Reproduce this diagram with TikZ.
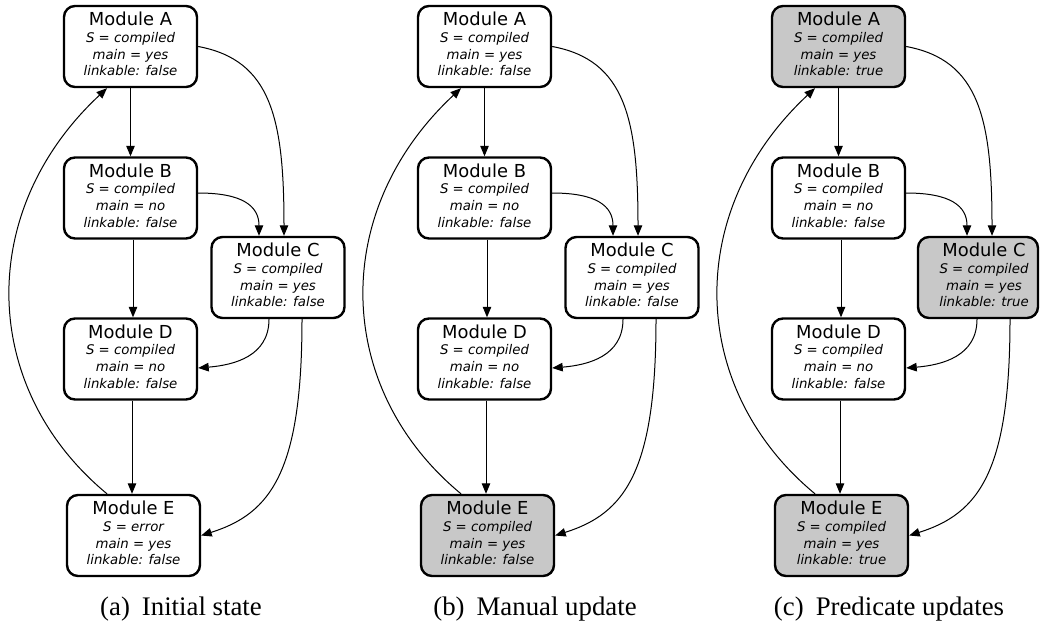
\documentclass[tikz,border=0pt]{standalone}
\usepackage{fontspec}
\setmainfont{Liberation Serif}
\newfontfamily\modfont{DejaVu Sans}
\usetikzlibrary{arrows.meta}
\definecolor{boxgray}{RGB}{200,200,200}
\newcommand\modlabel[4]{\begin{tabular}{@{}c@{}}{\upshape\fontsize{17.9}{16.8}\selectfont Module #1}\\ S = #2\\ main = #3\\ linkable: #4\end{tabular}}
\tikzset{
  module/.style={draw=black, line width=2.4pt, rounded corners=11pt, fill=white,
    minimum width=133pt, minimum height=81pt, inner sep=0pt, align=center,
    font=\modfont\fontsize{13.3}{16.8}\selectfont\itshape},
  done/.style={module, fill=boxgray},
  edge/.style={line width=1pt, -{Triangle[length=10.5pt,width=8.5pt]}},
  subcap/.style={font=\fontsize{26.8}{30}\selectfont, anchor=base, inner sep=0pt}
}
% #1 panel suffix, #2 B->C shift, #3 A->C shift, #4 C->D shift, #5 C->E shift
\newcommand\drawedges[5]{%
  \draw[edge] (A#1.south) -- (B#1.north);
  \draw[edge] ([xshift=2.5pt]B#1.south) -- ([xshift=2.5pt]D#1.north);
  \draw[edge] ([xshift=1.5pt]D#1.south) -- ([xshift=1.5pt]D#1.south |- E#1.north);
  \draw[edge] (A#1.east) .. controls +(73,13.5) and +(0,-117) .. ([xshift=#3pt]C#1.north);
  \draw[edge] ([yshift=5pt]B#1.east) .. controls +(44,0) and +(0,-30) .. ([xshift=#2pt]C#1.north);
  \draw[edge] ([xshift=#4pt]C#1.south) .. controls +(0,37) and +(36,-3) .. ([yshift=-9pt]D#1.east);
  \draw[edge] ([xshift=#5pt]C#1.south) .. controls +(0,152) and +(70,-22) .. (E#1.east);
  \draw[edge] ([xshift=-26.5pt]E#1.north) .. controls +(-127,-105) and +(-132,123) .. ([xshift=-23.5pt]A#1.south);
}
\begin{document}
\begin{tikzpicture}[x=1pt,y=-1pt]
\useasboundingbox (0,0) rectangle (1040,626);
% ---------- panel (a)
\begin{scope}
  \node[module] (Aa) at (130.5,46.5) {\modlabel{A}{compiled}{yes}{false}};
  \node[module] (Ba) at (130.5,198) {\modlabel{B}{compiled}{no}{false}};
  \node[module] (Ca) at (278,277.5) {\modlabel{C}{compiled}{yes}{false}};
  \node[module] (Da) at (130.5,359) {\modlabel{D}{compiled}{no}{false}};
  \node[module] (Ea) at (133.5,535.5) {\modlabel{E}{error}{yes}{false}};
  \drawedges{a}{-19}{6}{-9}{24}
  \node[subcap] (capa) at (181,615) {(a)\hspace{0.45em}Initial state};
\end{scope}
% ---------- panel (b)
\begin{scope}[xshift=354pt]
  \node[module] (Ab) at (130.5,46.5) {\modlabel{A}{compiled}{yes}{false}};
  \node[module] (Bb) at (130.5,198) {\modlabel{B}{compiled}{no}{false}};
  \node[module] (Cb) at (278,277.5) {\modlabel{C}{compiled}{yes}{false}};
  \node[module] (Db) at (130.5,359) {\modlabel{D}{compiled}{no}{false}};
  \node[done] (Eb) at (133.5,535.5) {\modlabel{E}{compiled}{yes}{false}};
  \drawedges{b}{-19}{6}{-9}{24}
  \node[subcap] (capb) at (181,615) {(b)\hspace{0.45em}Manual update};
\end{scope}
% ---------- panel (c)
\begin{scope}[xshift=708pt]
  \node[done] (Ac) at (130.5,46.5) {\modlabel{A}{compiled}{yes}{true}};
  \node[module] (Bc) at (130.5,198) {\modlabel{B}{compiled}{no}{false}};
  \node[done, minimum width=120pt] (Cc) at (270,277.5) {\hspace*{12pt}\modlabel{C}{compiled}{yes}{true}};
  \node[module] (Dc) at (130.5,359) {\modlabel{D}{compiled}{no}{false}};
  \node[done] (Ec) at (133.5,535.5) {\modlabel{E}{compiled}{yes}{true}};
  \drawedges{c}{-11}{14}{-1}{32}
  \node[subcap] (capc) at (181,615) {(c)\hspace{0.45em}Predicate updates};
\end{scope}
\end{tikzpicture}
\end{document}
